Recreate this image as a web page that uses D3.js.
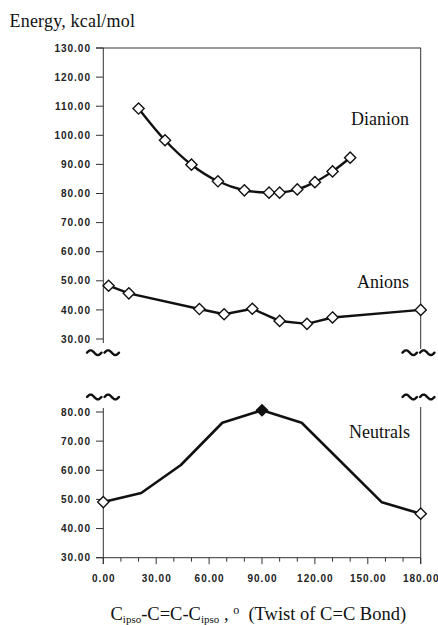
<!DOCTYPE html>
<html><head><meta charset="utf-8">
<script src="https://cdn.jsdelivr.net/npm/d3@7"></script>
<style>
html,body{margin:0;padding:0;background:#fff;}
svg{display:block;}
.tick-label{font-family:"Liberation Sans",Arial,sans-serif;font-weight:bold;font-size:10px;letter-spacing:1px;fill:#222;}
.serif{font-family:"Liberation Serif","Times New Roman",serif;fill:#111;}
</style>
</head><body>
<svg id="chart" width="438" height="625"></svg>
<script>
// ---- data ----
const dianionAngle = [20, 35, 50, 65, 80, 94, 100, 110, 120, 130, 140];
const dianionEnergy = [109.2, 98.3, 89.9, 84.2, 81.1, 80.3, 80.3, 81.4, 83.9, 87.6, 92.3];

const anionAngle = [3, 14.5, 54.5, 68.5, 84.5, 100, 115.5, 130, 180];
const anionEnergy = [48.3, 45.7, 40.3, 38.5, 40.4, 36.2, 35.2, 37.4, 40.0];

const neutralAngle = [0, 21.5, 44, 67.5, 90, 112.5, 158, 180];
const neutralEnergy = [49.1, 52.2, 61.8, 76.3, 80.6, 76.3, 49.0, 45.1];
const neutralMarker = ["open", null, null, null, "filled", null, null, "open"];

const topTicks = [30, 40, 50, 60, 70, 80, 90, 100, 110, 120, 130];
const bottomTicks = [30, 40, 50, 60, 70, 80];
const xMajorTicks = [0, 30, 60, 90, 120, 150, 180];
const xMinorTicks = [10, 20, 40, 50, 70, 80, 100, 110, 130, 140, 160, 170];

const seriesLabels = ["Dianion", "Anions", "Neutrals"];
const yTitle = "Energy, kcal/mol";

// ---- drawing ----
const svg = d3.select("#chart");
const x = d3.scaleLinear().domain([0, 180]).range([103.3, 420.7]);
const yTop = d3.scaleLinear().domain([30, 130]).range([339, 48]);
const yBot = d3.scaleLinear().domain([30, 80]).range([557.7, 412]);
const axisColor = "#333";
const serifFont = "'Liberation Serif', 'Times New Roman', serif";

// title
svg.append("text").attr("font-family", serifFont).attr("fill", "#111").attr("x", 9.5).attr("y", 26.5)
  .attr("font-size", 18).attr("letter-spacing", 0.2).text(yTitle);

// ---- top panel frame ----
const gTop = svg.append("g");
gTop.append("line").attr("x1", 96).attr("x2", 421).attr("y1", yTop(130)).attr("y2", yTop(130))
  .attr("stroke", axisColor).attr("stroke-width", 1);
gTop.append("line").attr("x1", x(0)).attr("x2", x(0)).attr("y1", yTop(130)).attr("y2", 343)
  .attr("stroke", axisColor).attr("stroke-width", 1);
gTop.append("line").attr("x1", x(180)).attr("x2", x(180)).attr("y1", yTop(130)).attr("y2", 349)
  .attr("stroke", axisColor).attr("stroke-width", 1);
topTicks.forEach(t => {
  gTop.append("line").attr("x1", 96).attr("x2", x(0)).attr("y1", yTop(t)).attr("y2", yTop(t))
    .attr("stroke", axisColor).attr("stroke-width", 1);
  gTop.append("text").attr("class", "tick-label").attr("x", 91).attr("y", yTop(t))
    .attr("dy", "0.36em").attr("text-anchor", "end").text(t.toFixed(2));
});

// ---- bottom panel frame ----
const gBot = svg.append("g");
gBot.append("line").attr("x1", x(0)).attr("x2", x(0)).attr("y1", 408).attr("y2", 564)
  .attr("stroke", axisColor).attr("stroke-width", 1);
gBot.append("line").attr("x1", x(180)).attr("x2", x(180)).attr("y1", 407).attr("y2", 564)
  .attr("stroke", axisColor).attr("stroke-width", 1);
gBot.append("line").attr("x1", 96).attr("x2", x(180)).attr("y1", yBot(30)).attr("y2", yBot(30))
  .attr("stroke", axisColor).attr("stroke-width", 1);
bottomTicks.forEach(t => {
  gBot.append("line").attr("x1", 96).attr("x2", x(0)).attr("y1", yBot(t)).attr("y2", yBot(t))
    .attr("stroke", axisColor).attr("stroke-width", 1);
  gBot.append("text").attr("class", "tick-label").attr("x", 91).attr("y", yBot(t))
    .attr("dy", "0.36em").attr("text-anchor", "end").text(t.toFixed(2));
});
xMajorTicks.forEach(t => {
  gBot.append("line").attr("x1", x(t)).attr("x2", x(t)).attr("y1", yBot(30)).attr("y2", yBot(30) + 6.5)
    .attr("stroke", axisColor).attr("stroke-width", 1);
  gBot.append("text").attr("class", "tick-label").attr("x", x(t) + 0.5).attr("y", 581.7)
    .attr("text-anchor", "middle").text(t.toFixed(2));
});
xMinorTicks.forEach(t => {
  gBot.append("line").attr("x1", x(t)).attr("x2", x(t)).attr("y1", yBot(30)).attr("y2", yBot(30) + 4)
    .attr("stroke", axisColor).attr("stroke-width", 1);
});

// ---- axis break marks ----
function tildes(x0, cy) {
  const w = 17.5, a = 2.4;
  for (let k = 0; k < 2; k++) {
    const pts = d3.range(0, 1.0001, 0.05).map(tt => [x0 + k * w + 1 + tt * (w - 3), cy - a * Math.sin(2 * Math.PI * tt)]);
    svg.append("path").attr("d", d3.line().curve(d3.curveBasis)(pts))
      .attr("fill", "none").attr("stroke", "#111").attr("stroke-width", 2.4).attr("stroke-linecap", "round");
  }
}
tildes(86, 352.7); tildes(86, 397);
tildes(401.5, 352.7); tildes(401.5, 397);

// ---- series ----
function diamondPath(cx, cy, r) {
  return `M${cx},${cy - r}L${cx + r},${cy}L${cx},${cy + r}L${cx - r},${cy}Z`;
}

// Dianion
const dianion = dianionAngle.map((a, i) => [a, dianionEnergy[i]]);
svg.append("path").attr("d", d3.line().x(d => x(d[0])).y(d => yTop(d[1])).curve(d3.curveCatmullRom.alpha(0.5))(dianion))
  .attr("fill", "none").attr("stroke", "#111").attr("stroke-width", 2.4);
dianion.forEach(d => {
  svg.append("path").attr("d", diamondPath(x(d[0]), yTop(d[1]), 5.6))
    .attr("fill", "#fff").attr("stroke", "#111").attr("stroke-width", 1.4);
});

// Anions
const anion = anionAngle.map((a, i) => [a, anionEnergy[i]]);
svg.append("path").attr("d", d3.line().x(d => x(d[0])).y(d => yTop(d[1]))(anion))
  .attr("fill", "none").attr("stroke", "#111").attr("stroke-width", 2.4);
anion.forEach(d => {
  svg.append("path").attr("d", diamondPath(x(d[0]), yTop(d[1]), 5.6))
    .attr("fill", "#fff").attr("stroke", "#111").attr("stroke-width", 1.4);
});

// Neutrals
const neutral = neutralAngle.map((a, i) => [a, neutralEnergy[i], neutralMarker[i]]);
svg.append("path").attr("d", d3.line().x(d => x(d[0])).y(d => yBot(d[1]))(neutral))
  .attr("fill", "none").attr("stroke", "#111").attr("stroke-width", 2.6).attr("stroke-linejoin", "round");
neutral.filter(d => d[2]).forEach(d => {
  svg.append("path").attr("d", diamondPath(x(d[0]), yBot(d[1]), 5.6))
    .attr("fill", d[2] === "filled" ? "#111" : "#fff").attr("stroke", "#111").attr("stroke-width", 1.4);
});

// series labels
function label(txt, xx, yy) {
  svg.append("text").attr("font-family", serifFont).attr("fill", "#111").attr("font-size", 18)
    .attr("x", xx).attr("y", yy).attr("text-anchor", "end").text(txt);
}
label(seriesLabels[0], 409, 125);
label(seriesLabels[1], 409, 287.5);
label(seriesLabels[2], 410, 437.5);

// x title
const xt = svg.append("text").attr("font-family", serifFont).attr("fill", "#111")
  .attr("font-size", 18.5).attr("x", 110.5).attr("y", 619.5);
xt.append("tspan").text("C");
xt.append("tspan").attr("font-size", 11).attr("dy", 3).text("ipso");
xt.append("tspan").attr("dy", -3).text("-C=C-C");
xt.append("tspan").attr("font-size", 11).attr("dy", 3).text("ipso");
xt.append("tspan").attr("dy", -3).text(" , ");
xt.append("tspan").attr("font-size", 12).attr("dy", -6).text("o");
xt.append("tspan").attr("dy", 6).text("\u00a0\u00a0(Twist of C=C Bond)");
</script>
</body></html>
